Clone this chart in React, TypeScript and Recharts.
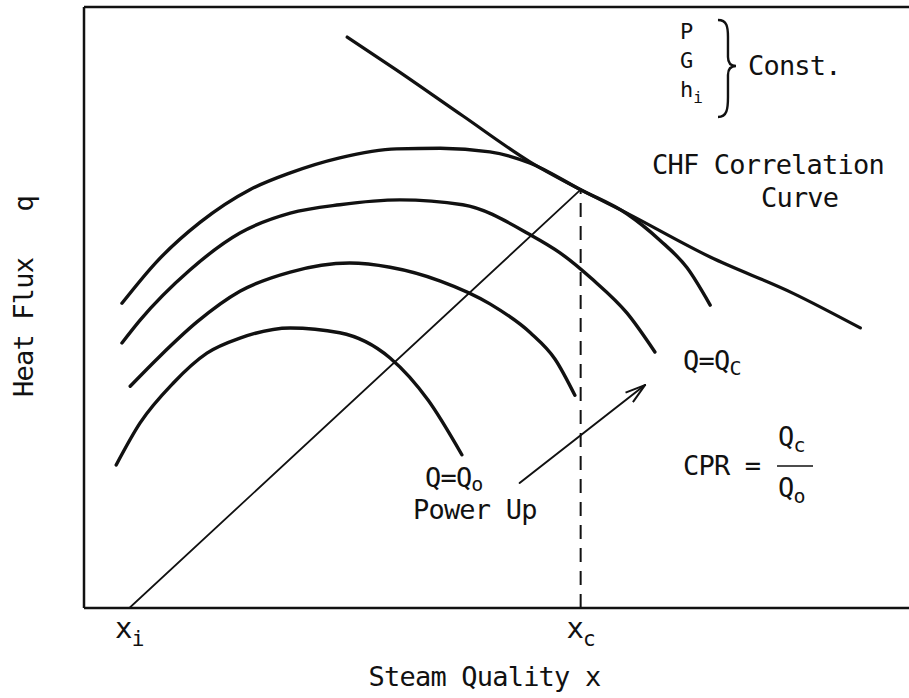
import React from 'react';
import { ComposedChart, Line, XAxis, YAxis, ReferenceLine, ReferenceDot } from 'recharts';

const FONT = "'DejaVu Sans Mono', 'Liberation Mono', monospace";
const INK = '#111';

// Steam quality x and heat flux q, both on a 0–100 relative scale.
const chfCorrelation = [
  { x: 31.9, q: 95.0 }, { x: 37.9, q: 89.5 }, { x: 45.9, q: 81.9 },
  { x: 54.1, q: 74.2 }, { x: 60.2, q: 69.6 }, { x: 65.8, q: 65.7 },
  { x: 75.9, q: 58.4 }, { x: 85.9, q: 52.4 }, { x: 94.1, q: 46.6 },
];

// Axial heat-flux profiles at rising bundle power (Q = Qc is the top one).
const profileQc = [
  { x: 4.6, q: 50.7 }, { x: 8.8, q: 57.6 }, { x: 14.1, q: 64.2 }, { x: 20.1, q: 69.6 },
  { x: 25.0, q: 72.4 }, { x: 31.0, q: 74.9 }, { x: 37.9, q: 76.4 }, { x: 43.2, q: 76.5 },
  { x: 49.2, q: 75.9 }, { x: 54.1, q: 74.0 }, { x: 60.2, q: 69.6 }, { x: 65.8, q: 65.6 },
  { x: 69.8, q: 61.2 }, { x: 73.1, q: 56.6 }, { x: 75.9, q: 50.4 },
];
const profileHigh = [
  { x: 4.6, q: 44.1 }, { x: 6.8, q: 47.9 }, { x: 12.8, q: 56.2 }, { x: 18.9, q: 62.4 },
  { x: 25.0, q: 65.7 }, { x: 31.0, q: 67.1 }, { x: 38.3, q: 67.9 }, { x: 45.9, q: 67.1 },
  { x: 54.1, q: 62.1 }, { x: 57.7, q: 59.1 }, { x: 61.7, q: 54.6 }, { x: 65.8, q: 49.1 },
  { x: 69.2, q: 42.6 },
];
const profileMid = [
  { x: 5.6, q: 36.9 }, { x: 9.2, q: 41.9 }, { x: 13.7, q: 47.6 }, { x: 18.9, q: 52.7 },
  { x: 25.0, q: 55.9 }, { x: 32.2, q: 57.4 }, { x: 37.1, q: 56.7 }, { x: 43.2, q: 54.4 },
  { x: 49.2, q: 50.6 }, { x: 54.1, q: 45.8 }, { x: 57.1, q: 41.4 }, { x: 59.5, q: 35.4 },
];
const profileQo = [
  { x: 3.9, q: 23.8 }, { x: 6.8, q: 30.8 }, { x: 10.8, q: 37.4 }, { x: 14.9, q: 42.4 },
  { x: 18.9, q: 44.9 }, { x: 25.0, q: 46.6 }, { x: 31.0, q: 45.8 }, { x: 37.1, q: 41.6 },
  { x: 41.7, q: 34.6 }, { x: 45.8, q: 25.5 },
];

// Inlet quality xi to the critical point (xc, qc) and the xc marker.
const inletToCritical = [{ x: 5.5, q: 0 }, { x: 60.2, q: 69.6 }];
const criticalQuality = [{ x: 60.2, q: 0 }, { x: 60.2, q: 69.6 }];
const powerUpArrow = [{ x: 52.8, q: 20.8 }, { x: 68.0, q: 37.1 }];

const xTicks = [5.5, 60.2];
const xTickSubscripts = ['i', 'c'];
const heldConstant = ['P', 'G', 'h'];

const textStyle: React.CSSProperties = {
  fontFamily: FONT,
  fontSize: 27,
  letterSpacing: -0.8,
  fill: INK,
  whiteSpace: 'pre',
};

const QualityTick = (props: any) => {
  const { x, y, payload } = props;
  const idx = xTicks.indexOf(payload.value);
  return (
    <text x={x} y={y + 30} textAnchor="middle" style={{ ...textStyle, fontSize: 29 }}>
      x<tspan fontSize={21} dy={8}>{xTickSubscripts[idx]}</tspan>
    </text>
  );
};

const XTitle = (props: any) => {
  const vb = props.viewBox;
  return (
    <text x={vb.x + vb.width / 2 - 12} y={vb.y + 78} textAnchor="middle" style={textStyle}>
      Steam Quality x
    </text>
  );
};

const YTitle = (props: any) => {
  const vb = props.viewBox;
  const cx = vb.x + 33;
  const cy = vb.y + vb.height / 2 - 11;
  return (
    <text x={cx} y={cy} transform={`rotate(-90, ${cx}, ${cy})`} textAnchor="middle" style={textStyle}>
      {'Heat Flux   q'}
    </text>
  );
};

const note = (render: (x: number, y: number) => React.ReactNode) => (props: any) => {
  const vb = props.viewBox;
  return <g>{render(vb.x, vb.y)}</g>;
};

const sub = (s: string, size = 20, dy = 5) => (
  <tspan fontSize={size} dy={dy}>{s}</tspan>
);

export default function App() {
  const lineCommon = {
    dataKey: 'q',
    stroke: INK,
    dot: false,
    activeDot: false,
    isAnimationActive: false,
    legendType: 'none' as const,
    strokeLinecap: 'round' as const,
  };

  return (
    <div style={{ position: 'absolute', left: 0, top: 0, width: 909, height: 698, background: '#fff' }}>
      <ComposedChart width={909} height={698} margin={{ top: 7, right: 0, bottom: 0, left: 0 }}>
        <defs>
          <marker
            id="powerUpHead"
            viewBox="0 0 22 14"
            refX="21"
            refY="7"
            markerWidth="22"
            markerHeight="14"
            markerUnits="userSpaceOnUse"
            orient="auto"
          >
            <path d="M1,1 L21,7 L1,13" fill="none" stroke={INK} strokeWidth={2} />
          </marker>
        </defs>
        <XAxis
          type="number"
          dataKey="x"
          domain={[0, 100]}
          allowDataOverflow
          ticks={xTicks}
          tick={<QualityTick />}
          tickLine={false}
          tickSize={0}
          tickMargin={0}
          height={90}
          axisLine={{ stroke: INK, strokeWidth: 2.5 }}
          label={{ content: XTitle }}
        />
        <YAxis
          type="number"
          domain={[0, 100]}
          allowDataOverflow
          width={84}
          tick={false}
          tickLine={false}
          axisLine={{ stroke: INK, strokeWidth: 2.5 }}
          label={{ content: YTitle }}
        />
        <ReferenceLine y={100} stroke={INK} strokeWidth={2.5} />

        <Line {...lineCommon} data={profileQo} type="monotone" strokeWidth={3.4} />
        <Line {...lineCommon} data={profileMid} type="monotone" strokeWidth={3.4} />
        <Line {...lineCommon} data={profileHigh} type="monotone" strokeWidth={3.4} />
        <Line {...lineCommon} data={profileQc} type="monotone" strokeWidth={3.4} />
        <Line {...lineCommon} data={chfCorrelation} type="monotone" strokeWidth={3.2} />
        <Line {...lineCommon} data={inletToCritical} type="linear" strokeWidth={1.8} />
        <Line {...lineCommon} data={criticalQuality} type="linear" strokeWidth={2} strokeDasharray="14 9" strokeLinecap="butt" />
        <Line {...lineCommon} data={powerUpArrow} type="linear" strokeWidth={2} markerEnd="url(#powerUpHead)" />

        <ReferenceDot x={68.85} y={72.21} r={0} stroke="none" fill="none"
          label={{ content: note((x, y) => <text x={x} y={y} style={textStyle}>CHF Correlation</text>) }} />
        <ReferenceDot x={82.06} y={66.72} r={0} stroke="none" fill="none"
          label={{ content: note((x, y) => <text x={x} y={y} style={textStyle}>Curve</text>) }} />
        <ReferenceDot x={72.61} y={39.6} r={0} stroke="none" fill="none"
          label={{ content: note((x, y) => <text x={x} y={y} style={textStyle}>Q=Q{sub('C')}</text>) }} />
        <ReferenceDot x={41.33} y={20.1} r={0} stroke="none" fill="none"
          label={{ content: note((x, y) => <text x={x} y={y} style={textStyle}>Q=Q{sub('o', 20, 4)}</text>) }} />
        <ReferenceDot x={39.88} y={14.8} r={0} stroke="none" fill="none"
          label={{ content: note((x, y) => <text x={x} y={y} style={textStyle}>Power Up</text>) }} />
        <ReferenceDot x={72.61} y={22.13} r={0} stroke="none" fill="none"
          label={{
            content: note((x, y) => (
              <>
                <text x={x} y={y} style={textStyle}>{'CPR = '}</text>
                <line x1={x + 94} x2={x + 130} y1={y - 9} y2={y - 9} stroke={INK} strokeWidth={1.6} />
                <text x={x + 95} y={y - 29} style={textStyle}>Q{sub('c', 20, 6)}</text>
                <text x={x + 95} y={y + 22} style={textStyle}>Q{sub('o', 20, 6)}</text>
              </>
            )),
          }} />
        <ReferenceDot x={72.24} y={94.68} r={0} stroke="none" fill="none"
          label={{
            content: note((x, y) => (
              <>
                {heldConstant.map((s, i) => (
                  <text key={s} x={x} y={y + i * 29} style={{ ...textStyle, fontSize: 22, letterSpacing: 0 }}>
                    {s}{s === 'h' ? sub('i', 16, 6) : null}
                  </text>
                ))}
                <path
                  d={`M${x + 38},${y - 19} C${x + 47},${y - 19} ${x + 48},${y - 12} ${x + 48},${y - 2}
                      L${x + 48},${y + 18} C${x + 48},${y + 24} ${x + 51},${y + 27} ${x + 56},${y + 27}
                      C${x + 51},${y + 27} ${x + 48},${y + 30} ${x + 48},${y + 36}
                      L${x + 48},${y + 58} C${x + 48},${y + 70} ${x + 47},${y + 78} ${x + 38},${y + 78}`}
                  fill="none"
                  stroke={INK}
                  strokeWidth={2.4}
                />
                <text x={x + 68} y={y + 36} style={textStyle}>Const.</text>
              </>
            )),
          }} />
      </ComposedChart>
    </div>
  );
}
